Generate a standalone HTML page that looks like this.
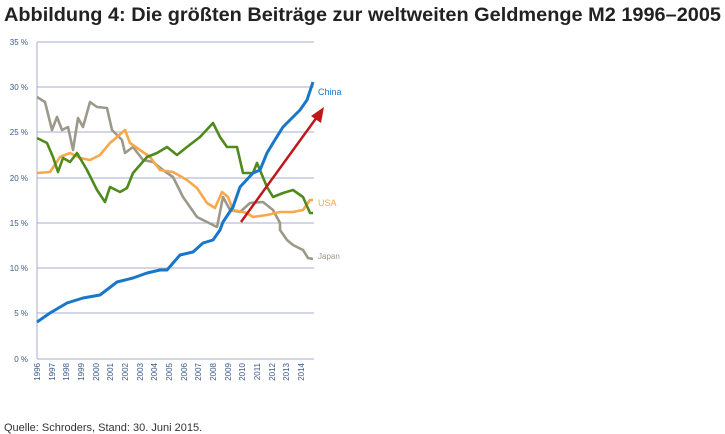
<!DOCTYPE html>
<html><head><meta charset="utf-8"><style>body{margin:0;background:#fff}svg{display:block}</style></head>
<body>
<svg width="725" height="434" xmlns="http://www.w3.org/2000/svg" font-family="Liberation Sans, sans-serif">
<text x="4" y="21" font-size="19" font-weight="bold" fill="#222" textLength="717" lengthAdjust="spacingAndGlyphs">Abbildung 4: Die größten Beiträge zur weltweiten Geldmenge M2 1996–2005</text>
<g stroke="#a9aed0" stroke-width="1">
<line x1="37" y1="42" x2="314" y2="42"/><line x1="37" y1="87" x2="314" y2="87"/><line x1="37" y1="132" x2="314" y2="132"/><line x1="37" y1="178" x2="314" y2="178"/><line x1="37" y1="223" x2="314" y2="223"/><line x1="37" y1="268" x2="314" y2="268"/><line x1="37" y1="313" x2="314" y2="313"/><line x1="37" y1="359" x2="314" y2="359"/>
<line x1="37" y1="42" x2="37" y2="359"/>
</g>
<g font-size="8" fill="#3a5a8a" text-anchor="end">
<text x="28" y="45">35 %</text><text x="28" y="90">30 %</text><text x="28" y="135">25 %</text><text x="28" y="181">20 %</text><text x="28" y="226">15 %</text><text x="28" y="271">10 %</text><text x="28" y="316">5 %</text><text x="28" y="362">0 %</text>
</g>
<g font-size="8" fill="#3a5a8a" text-anchor="end">
<text transform="translate(40,363) rotate(-90)">1996</text>
<text transform="translate(55,363) rotate(-90)">1997</text>
<text transform="translate(69,363) rotate(-90)">1998</text>
<text transform="translate(84,363) rotate(-90)">1999</text>
<text transform="translate(99,363) rotate(-90)">2000</text>
<text transform="translate(113,363) rotate(-90)">2001</text>
<text transform="translate(128,363) rotate(-90)">2002</text>
<text transform="translate(143,363) rotate(-90)">2003</text>
<text transform="translate(157,363) rotate(-90)">2004</text>
<text transform="translate(172,363) rotate(-90)">2005</text>
<text transform="translate(187,363) rotate(-90)">2006</text>
<text transform="translate(201,363) rotate(-90)">2007</text>
<text transform="translate(216,363) rotate(-90)">2008</text>
<text transform="translate(231,363) rotate(-90)">2009</text>
<text transform="translate(245,363) rotate(-90)">2010</text>
<text transform="translate(260,363) rotate(-90)">2011</text>
<text transform="translate(275,363) rotate(-90)">2012</text>
<text transform="translate(289,363) rotate(-90)">2013</text>
<text transform="translate(304,363) rotate(-90)">2014</text>
</g>
<g fill="none" stroke-width="2.6" stroke-linejoin="round">
<polyline stroke="#9c988a" points="37,97 45,102 52,130 57,117 62,130 68,127 73,150 78,118 83,127 90,102 97,107 107,108 112,130 122,140 125,153 133,147 143,160 153,162 163,170 173,177 183,197 197,217 207,222 217,227 223,197 230,210 240,212 250,203 263,202 273,210 280,223 280,230 287,240 293,245 303,250 308,258 313,259"/>
<polyline stroke="#f7a84a" points="37,173 50,172 60,157 70,153 80,158 90,160 100,155 110,143 117,137 125,130 130,143 140,150 150,157 160,170 173,172 187,180 197,188 207,203 215,208 222,192 228,197 233,210 247,213 253,217 267,215 280,212 293,212 303,210 310,200 313,200"/>
<polyline stroke="#4e8a1c" points="37,138 47,143 53,157 58,172 63,158 70,162 77,153 87,170 97,190 105,202 110,187 120,192 127,188 133,173 147,157 157,153 167,147 177,155 187,147 200,137 213,123 220,137 227,147 237,147 243,173 253,173 257,163 267,187 273,197 283,193 293,190 303,197 310,213 313,213"/>
<polyline stroke="#1877c9" stroke-width="3" points="37,322 50,313 67,303 83,298 100,295 117,282 133,278 147,273 160,270 167,270 180,255 193,252 203,243 213,240 220,230 223,222 233,207 240,187 253,173 260,170 267,153 273,143 283,127 290,120 300,110 307,100 313,82"/>
</g>
<line x1="241" y1="222" x2="317" y2="117" stroke="#c0171d" stroke-width="2.5"/>
<polygon points="324,107 311,116 321,123" fill="#c0171d"/>
<text x="318" y="95" font-size="9" fill="#1877c9">China</text>
<text x="318" y="206" font-size="9" fill="#f7a84a">USA</text>
<text x="318" y="259" font-size="8" fill="#9c988a">Japan</text>
<text x="4" y="431" font-size="11" fill="#333">Quelle: Schroders, Stand: 30. Juni 2015.</text>
</svg>
</body></html>
